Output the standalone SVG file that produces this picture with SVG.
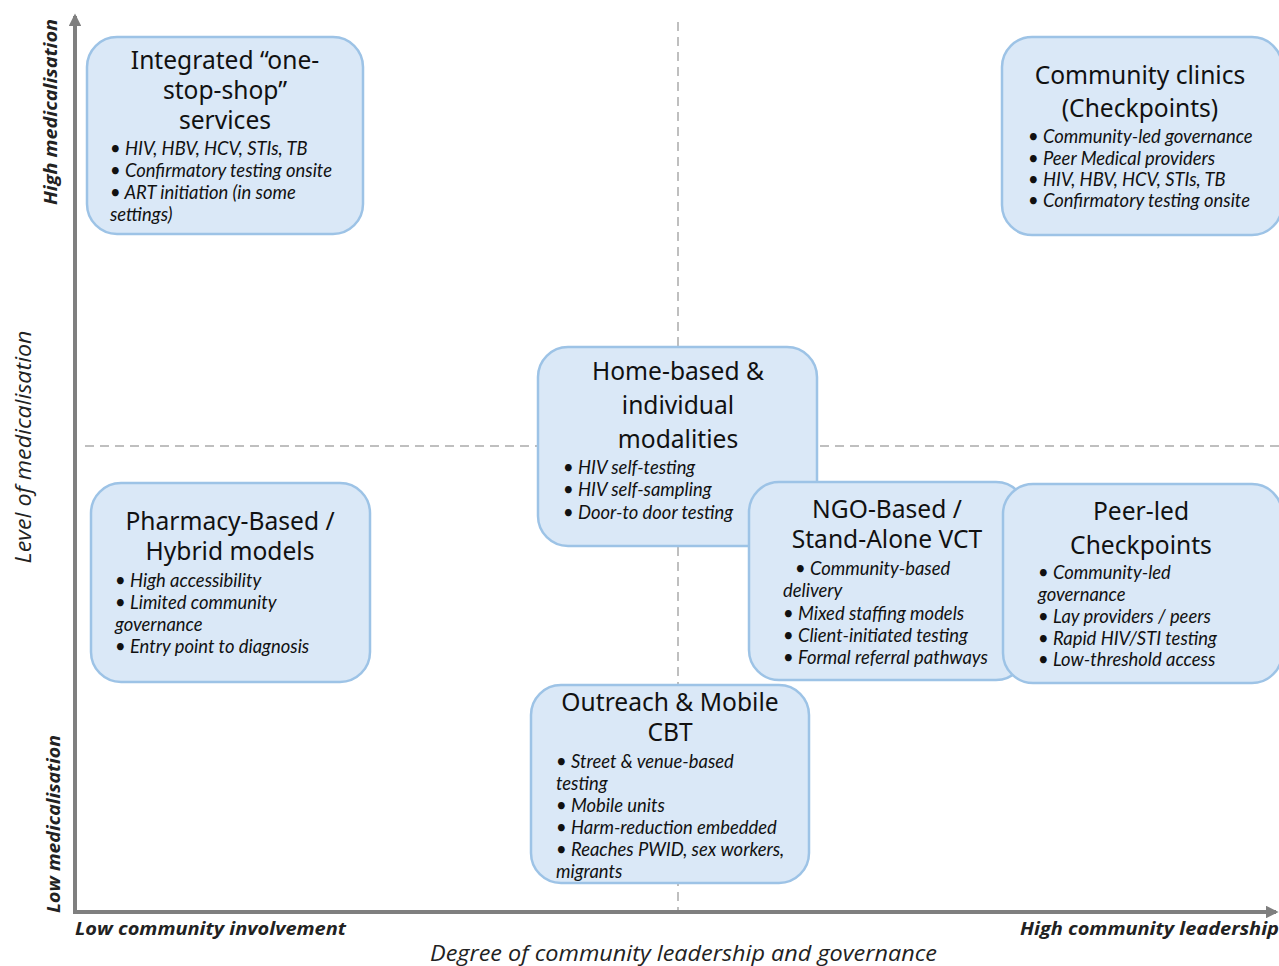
<svg xmlns="http://www.w3.org/2000/svg" width="1279" height="966" viewBox="0 0 1279 966">
<defs>
<marker id="ah" viewBox="0 0 10 10" refX="8" refY="5" markerWidth="3.2" markerHeight="3.2" orient="auto" markerUnits="strokeWidth">
<path d="M0,0 L10,5 L0,10 z" fill="#7f7f7f"/>
</marker>
<style>
.box{fill:#dae8f7;stroke:#9dc3e6;stroke-width:2.5}
.t{font-family:"Noto Sans","Open Sans",sans-serif;font-size:24.6px;fill:#111;text-anchor:middle}
.b{font-family:"Lato","Open Sans",sans-serif;font-style:italic;font-size:18.4px;fill:#111}
.dash{stroke:#bfbfbf;stroke-width:2;stroke-dasharray:9 6;fill:none}
.axis{stroke:#7f7f7f;stroke-width:4;fill:none}
.al{font-family:"Open Sans","Liberation Sans",sans-serif;font-style:italic;font-weight:bold;font-size:18px;fill:#222}
.am{font-family:"Open Sans","Liberation Sans",sans-serif;font-style:italic;font-size:21px;fill:#222}
</style>
</defs>
<rect width="1279" height="966" fill="#ffffff"/>
<g id="connectors">
<line class="dash" x1="678" y1="22" x2="678" y2="910"/>
<line class="dash" x1="85" y1="446" x2="1279" y2="446"/>
<line class="axis" x1="75" y1="913" x2="75" y2="16" marker-end="url(#ah)"/>
<line class="axis" x1="73" y1="912" x2="1276" y2="912" marker-end="url(#ah)"/>
</g>
<g id="axis-labels">
<text class="al" transform="translate(57,112) rotate(-90)" text-anchor="middle" textLength="186" lengthAdjust="spacingAndGlyphs">High medicalisation</text>
<text class="al" transform="translate(60,824) rotate(-90)" text-anchor="middle" textLength="178" lengthAdjust="spacingAndGlyphs">Low medicalisation</text>
<text class="am" transform="translate(31,447) rotate(-90)" text-anchor="middle" textLength="233" lengthAdjust="spacingAndGlyphs">Level of medicalisation</text>
<text class="al" x="75" y="935" textLength="271" lengthAdjust="spacingAndGlyphs">Low community involvement</text>
<text class="al" x="1020" y="935" textLength="259" lengthAdjust="spacingAndGlyphs">High community leadership</text>
<text class="am" x="430" y="961" textLength="507" lengthAdjust="spacingAndGlyphs">Degree of community leadership and governance</text>
</g>
<g id="integrated">
<rect class="box" x="87" y="37" width="276" height="197" rx="30"/>
<text class="t" x="225" y="69">Integrated “one-</text>
<text class="t" x="225" y="99">stop-shop”</text>
<text class="t" x="225" y="129">services</text>
<text class="b" x="110" y="155">• HIV, HBV, HCV, STIs, TB</text>
<text class="b" x="110" y="177">• Confirmatory testing onsite</text>
<text class="b" x="110" y="199">• ART initiation (in some</text>
<text class="b" x="110" y="221">settings)</text>
</g>
<g id="community-clinics">
<rect class="box" x="1002" y="37" width="280" height="198" rx="30"/>
<text class="t" x="1140" y="84">Community clinics</text>
<text class="t" x="1140" y="117">(Checkpoints)</text>
<text class="b" x="1028" y="143">• Community-led governance</text>
<text class="b" x="1028" y="165">• Peer Medical providers</text>
<text class="b" x="1028" y="186">• HIV, HBV, HCV, STIs, TB</text>
<text class="b" x="1028" y="207">• Confirmatory testing onsite</text>
</g>
<g id="home-based">
<rect class="box" x="538" y="347" width="279" height="199" rx="30"/>
<text class="t" x="678" y="380">Home-based &amp;</text>
<text class="t" x="678" y="414">individual</text>
<text class="t" x="678" y="448">modalities</text>
<text class="b" x="563" y="474">• HIV self-testing</text>
<text class="b" x="563" y="496">• HIV self-sampling</text>
<text class="b" x="563" y="519">• Door-to door testing</text>
</g>
<g id="pharmacy">
<rect class="box" x="91" y="483" width="279" height="199" rx="30"/>
<text class="t" x="230" y="530">Pharmacy-Based /</text>
<text class="t" x="230" y="560">Hybrid models</text>
<text class="b" x="115" y="587">• High accessibility</text>
<text class="b" x="115" y="609">• Limited community</text>
<text class="b" x="115" y="631">governance</text>
<text class="b" x="115" y="653">• Entry point to diagnosis</text>
</g>
<g id="ngo">
<rect class="box" x="749" y="482" width="277" height="198" rx="30"/>
<text class="t" x="887" y="518">NGO-Based /</text>
<text class="t" x="887" y="548">Stand-Alone VCT</text>
<text class="b" x="795" y="575">• Community-based</text>
<text class="b" x="783" y="597">delivery</text>
<text class="b" x="783" y="620">• Mixed staffing models</text>
<text class="b" x="783" y="642">• Client-initiated testing</text>
<text class="b" x="783" y="664">• Formal referral pathways</text>
</g>
<g id="peer-led">
<rect class="box" x="1003" y="484" width="279" height="199" rx="30"/>
<text class="t" x="1141" y="520">Peer-led</text>
<text class="t" x="1141" y="554">Checkpoints</text>
<text class="b" x="1038" y="579">• Community-led</text>
<text class="b" x="1038" y="601">governance</text>
<text class="b" x="1038" y="623">• Lay providers / peers</text>
<text class="b" x="1038" y="645">• Rapid HIV/STI testing</text>
<text class="b" x="1038" y="666">• Low-threshold access</text>
</g>
<g id="outreach">
<rect class="box" x="531" y="685" width="278" height="198" rx="30"/>
<text class="t" x="670" y="711">Outreach &amp; Mobile</text>
<text class="t" x="670" y="741">CBT</text>
<text class="b" x="556" y="768">• Street &amp; venue-based</text>
<text class="b" x="556" y="790">testing</text>
<text class="b" x="556" y="812">• Mobile units</text>
<text class="b" x="556" y="834">• Harm-reduction embedded</text>
<text class="b" x="556" y="856">• Reaches PWID, sex workers,</text>
<text class="b" x="556" y="878">migrants</text>
</g>
</svg>
